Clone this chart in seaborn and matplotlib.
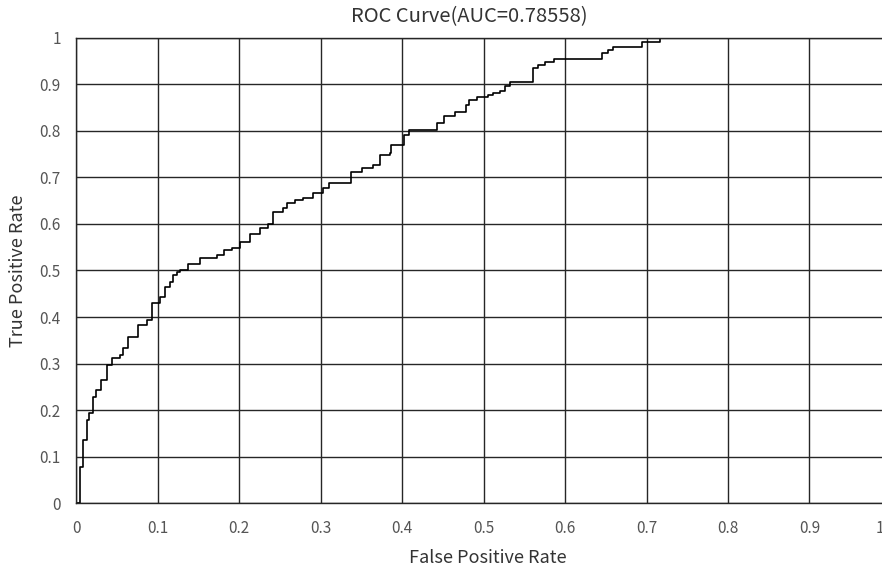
import seaborn as sns
import matplotlib.pyplot as plt
import matplotlib.transforms as mtransforms
import pandas as pd
import numpy as np

# Puntos de la curva ROC (esquina superior izquierda de cada escalón)
fpr = [0.000, 0.005, 0.009, 0.013, 0.016, 0.021, 0.025, 0.031, 0.038, 0.044,
       0.054, 0.058, 0.064, 0.076, 0.087, 0.093, 0.103, 0.109, 0.115, 0.119,
       0.124, 0.128, 0.138, 0.152, 0.173, 0.181, 0.191, 0.201, 0.213, 0.226,
       0.236, 0.242, 0.254, 0.259, 0.269, 0.279, 0.291, 0.303, 0.310, 0.338,
       0.351, 0.365, 0.373, 0.385, 0.387, 0.402, 0.408, 0.443, 0.451, 0.465,
       0.479, 0.482, 0.492, 0.506, 0.512, 0.520, 0.526, 0.533, 0.561, 0.567,
       0.575, 0.586, 0.645, 0.653, 0.659, 0.694, 0.717, 1.000]
tpr = [0.000, 0.078, 0.135, 0.178, 0.194, 0.229, 0.243, 0.265, 0.297, 0.312,
       0.318, 0.333, 0.358, 0.383, 0.394, 0.430, 0.444, 0.465, 0.476, 0.490,
       0.497, 0.501, 0.515, 0.526, 0.533, 0.544, 0.548, 0.562, 0.578, 0.591,
       0.601, 0.626, 0.634, 0.645, 0.652, 0.655, 0.666, 0.677, 0.688, 0.712,
       0.720, 0.727, 0.748, 0.752, 0.770, 0.791, 0.802, 0.817, 0.832, 0.840,
       0.856, 0.867, 0.874, 0.877, 0.881, 0.885, 0.896, 0.906, 0.935, 0.942,
       0.949, 0.955, 0.968, 0.974, 0.981, 0.992, 1.000, 1.000]
auc = 0.78558

ticks = np.round(np.arange(0, 1.01, 0.1), 1)
tick_labels = ["0" if t == 0 else ("1" if t == 1 else f"{t:.1f}") for t in ticks]

df = pd.DataFrame({"FPR": fpr, "TPR": tpr})

sns.set_style("white")
plt.rcParams["font.family"] = ["Noto Sans CJK SC", "DejaVu Sans"]

fig = plt.figure(figsize=(8.82, 5.72), dpi=100)
ax = fig.add_axes([0.0862, 0.1206, 0.924, 0.813])

sns.lineplot(data=df, x="FPR", y="TPR", sort=False, estimator=None,
             color="black", linewidth=1.2, drawstyle="steps-post", ax=ax)

ax.set_xlim(0, 1)
ax.set_ylim(0, 1)
ax.set_xticks(ticks)
ax.set_yticks(ticks)
ax.set_xticklabels(tick_labels)
ax.set_yticklabels(tick_labels)
ax.grid(True, color="#262626", linewidth=1.0)
ax.tick_params(length=0, labelsize=11, colors="#555555", pad=12)
ax.tick_params(axis="y", pad=11)
for s in ax.spines.values():
    s.set_color("#262626")
    s.set_linewidth(1.0)

# la etiqueta "1" queda medio cortada en el borde, como en la original
last = ax.get_xticklabels()[-1]
last.set_transform(last.get_transform() +
                   mtransforms.ScaledTranslation(-8 / 72, 0, fig.dpi_scale_trans))

ax.text(0.483, 1.045, f"ROC Curve(AUC={auc})", transform=ax.transAxes,
        fontsize=14.5, color="#333333", ha="center", va="center")
ax.set_xlabel("False Positive Rate", fontsize=13, color="#333333")
ax.set_ylabel("True Positive Rate", fontsize=13, color="#333333")
ax.xaxis.label.set_va("center")
ax.yaxis.label.set_va("center")
ax.xaxis.set_label_coords(0.505, -0.118)
ax.yaxis.set_label_coords(-0.0712, 0.5)

plt.savefig("out.png", dpi=100)
